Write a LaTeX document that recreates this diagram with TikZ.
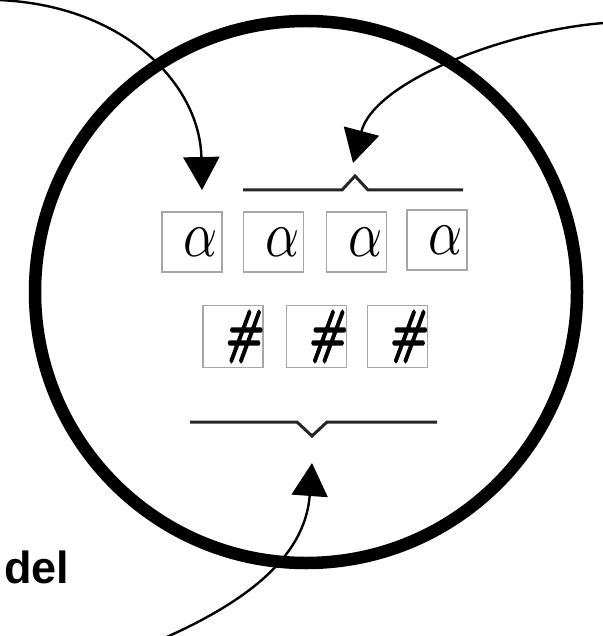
\documentclass[tikz,border=0pt]{standalone}
\usepackage{fontspec}
\newfontfamily\delfont{Liberation Sans}
\newfontfamily\hashfont{lmroman10-bolditalic.otf}[FakeBold=3]
\usetikzlibrary{arrows.meta}
\tikzset{
  x=1pt, y=-1pt,
  ring/.style={line width=12.5pt, draw=black},
  cell/.style={draw=black!35, line width=1.6pt, fill=white, minimum width=60pt, minimum height=60pt,
    inner xsep=4pt, inner ysep=0pt, text width=52pt, align=right},
  alphacell/.style={cell},
  hashcell/.style={cell, minimum height=62pt, inner xsep=1pt, text width=58pt},
  brace/.style={line width=3pt, draw=black!85, line join=miter},
  pointer/.style={line width=2.4pt, draw=black, -{Triangle[width=36pt,length=33pt]}},
}
\newcommand{\alphaglyph}{\scalebox{5.3}[6.6]{$\alpha$}}
\newcommand{\hashglyph}{\scalebox{4.1}[5.85]{\hashfont\#}}
\begin{document}
\begin{tikzpicture}
\useasboundingbox (0,0) rectangle (602,636);
\draw[ring] (306,292) circle[radius=271];

\node[alphacell] (a1) at (192,242) {\alphaglyph};
\node[alphacell] (a2) at (273.5,242) {\alphaglyph};
\node[alphacell] (a3) at (356.5,242) {\alphaglyph};
\node[alphacell] (a4) at (437,240) {\alphaglyph};

\node[hashcell] (h1) at (233,336.5) {\hashglyph};
\node[hashcell] (h2) at (316.5,336.5) {\hashglyph};
\node[hashcell] (h3) at (397.5,336.5) {\hashglyph};

\coordinate (tbL) at (243,190);
\coordinate (tbP) at (355,176);
\coordinate (tbR) at (463,190);
\draw[brace] (tbL) -- (342,190) -- (tbP) -- (368,190) -- (tbR);

\coordinate (bbL) at (190,422);
\coordinate (bbP) at (312,436);
\coordinate (bbR) at (437,422);
\draw[brace] (bbL) -- (297,422) -- (bbP) -- (327,422) -- (bbR);

\coordinate (s1) at (-2,0);
\coordinate (t1) at (202,190);
\draw[pointer] (s1) .. controls (125,5) and (200,85) .. (t1);

\coordinate (s2) at (604,23);
\coordinate (t2) at (353,163);
\draw[pointer] (s2) .. controls (510,30) and (375,80) .. (t2);

\coordinate (s3) at (160,640);
\coordinate (t3) at (312,463);
\draw[pointer] (s3) .. controls (240,605) and (305,560) .. (t3);

\node[font=\delfont\bfseries\fontsize{45}{45}\selectfont, anchor=base west, inner sep=0pt] (del) at (4,583) {del};
\end{tikzpicture}
\end{document}
